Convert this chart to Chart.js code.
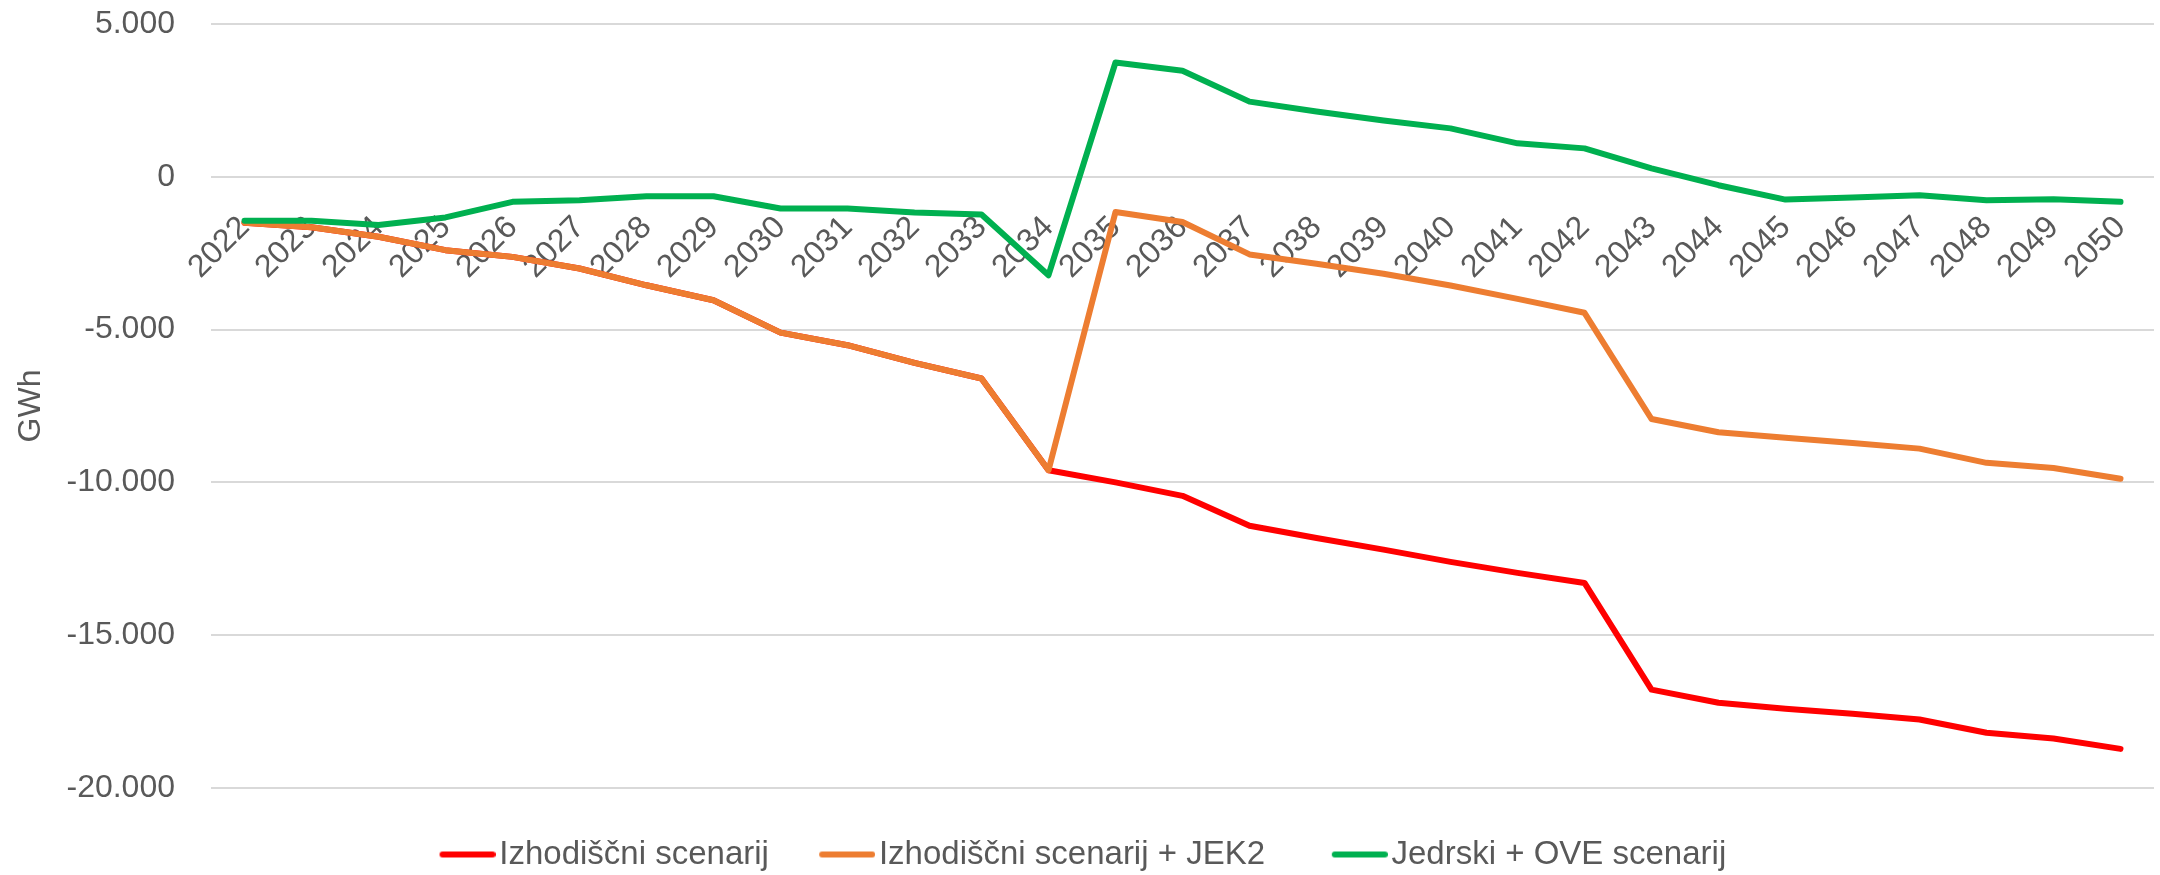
<!DOCTYPE html>
<html lang="sl">
<head>
    <meta charset="UTF-8">
    <title>Bilanca električne energije</title>
    <script src="https://cdn.jsdelivr.net/npm/chart.js@4/dist/chart.umd.min.js"></script>
    <style>
        body {
            margin: 0;
            background: #ffffff;
        }
        .chart-box {
            width: 2160px;
            height: 875px;
        }
    </style>
</head>
<body>

    <div class="chart-box">
        <canvas id="bilancaChart"></canvas>
    </div>

    <script>
        // Leta in vrednosti (GWh), odčitano z grafa
        const years = ['2022', '2023', '2024', '2025', '2026', '2027', '2028', '2029', '2030', '2031',
            '2032', '2033', '2034', '2035', '2036', '2037', '2038', '2039', '2040', '2041',
            '2042', '2043', '2044', '2045', '2046', '2047', '2048', '2049', '2050'];

        const izhodiscni = [-1500, -1650, -1960, -2400, -2620, -3000, -3550, -4040, -5100, -5510,
            -6090, -6600, -9600, -10000, -10440, -11420, -11820, -12200, -12600, -12960,
            -13290, -16780, -17210, -17410, -17570, -17760, -18190, -18380, -18720];

        const izhodiscniJek2 = [-1500, -1650, -1960, -2400, -2620, -3000, -3550, -4040, -5100, -5510,
            -6090, -6600, -9600, -1150, -1480, -2540, -2845, -3170, -3555, -3995,
            -4450, -7925, -8360, -8540, -8710, -8895, -9360, -9530, -9880];

        const jedrskiOve = [-1440, -1440, -1580, -1330, -820, -765, -635, -635, -1035, -1035,
            -1170, -1235, -3220, 3740, 3470, 2460, 2135, 1840, 1585, 1095,
            930, 275, -275, -745, -680, -600, -765, -735, -820];

        const yTicks = [5000, 0, -5000, -10000, -15000, -20000];

        const textColor = '#595959';
        const fontFamily = "'Liberation Sans', Arial, sans-serif";

        // 5000 -> "5.000"
        function formatGWh(v) {
            const s = Math.abs(v).toString().replace(/\B(?=(\d{3})+(?!\d))/g, '.');
            return (v < 0 ? '-' : '') + s;
        }

        // legend marker: short thick line, sits close to the text
        function lineMarker(color) {
            const c = document.createElement('canvas');
            c.width = 69;
            c.height = 10;
            const g = c.getContext('2d');
            g.strokeStyle = color;
            g.lineWidth = 6;
            g.lineCap = 'round';
            g.beginPath();
            g.moveTo(16, 5);
            g.lineTo(66, 5);
            g.stroke();
            return c;
        }

        const ctx = document.getElementById('bilancaChart').getContext('2d');
        new Chart(ctx, {
            type: 'line',
            data: {
                labels: years,
                datasets: [
                    {
                        label: 'Izhodiščni scenarij',
                        data: izhodiscni,
                        borderColor: '#FF0000',
                        backgroundColor: '#FF0000',
                        order: 3
                    },
                    {
                        label: 'Izhodiščni scenarij + JEK2',
                        data: izhodiscniJek2,
                        borderColor: '#ED7D31',
                        backgroundColor: '#ED7D31',
                        order: 2
                    },
                    {
                        label: 'Jedrski + OVE scenarij',
                        data: jedrskiOve,
                        borderColor: '#00B050',
                        backgroundColor: '#00B050',
                        order: 1
                    }
                ]
            },
            options: {
                responsive: true,
                maintainAspectRatio: false,
                animation: false,
                layout: {
                    // left padding nudges the legend to the right; y axis width makes up for it
                    padding: { top: 24, right: 6, bottom: -6, left: 28 }
                },
                elements: {
                    point: { radius: 0, hoverRadius: 0 },
                    line: { tension: 0, borderWidth: 6, borderCapStyle: 'round', borderJoinStyle: 'round' }
                },
                plugins: {
                    tooltip: { enabled: false },
                    legend: {
                        position: 'bottom',
                        labels: {
                            usePointStyle: true,
                            pointStyleWidth: 43.5,
                            padding: 50,
                            color: textColor,
                            font: { family: fontFamily, size: 33 },
                            sort: (a, b) => a.datasetIndex - b.datasetIndex,
                            generateLabels: (chart) => {
                                const items = Chart.defaults.plugins.legend.labels.generateLabels(chart);
                                items.forEach((it, i) => {
                                    it.pointStyle = lineMarker(it.strokeStyle);
                                    // a bit more room between entries
                                    if (i < items.length - 1) it.text += '\u2002';
                                });
                                return items;
                            }
                        }
                    }
                },
                scales: {
                    x: {
                        position: { y: 0 },
                        offset: true,
                        grid: { display: false },
                        border: { display: false },
                        ticks: {
                            autoSkip: false,
                            minRotation: 45,
                            maxRotation: 45,
                            padding: 24,
                            color: textColor,
                            font: { family: fontFamily, size: 32 }
                        },
                        afterFit: (scale) => {
                            scale.height = 0;
                            scale.paddingLeft = 0;
                            scale.paddingRight = 0;
                        }
                    },
                    y: {
                        min: -20000,
                        max: 5000,
                        afterBuildTicks: (scale) => {
                            scale.ticks = yTicks.map(v => ({ value: v }));
                        },
                        afterFit: (scale) => {
                            scale.width = 183;
                            scale.paddingTop = 0;
                            scale.paddingBottom = 0;
                        },
                        grid: {
                            color: '#D9D9D9',
                            lineWidth: 2,
                            drawTicks: false
                        },
                        border: { display: false },
                        ticks: {
                            padding: 36,
                            color: textColor,
                            font: { family: fontFamily, size: 32 },
                            callback: (v) => formatGWh(v)
                        },
                        title: {
                            display: true,
                            text: 'GWh',
                            color: textColor,
                            padding: { top: -16, bottom: 0 },
                            font: { family: fontFamily, size: 32 }
                        }
                    }
                }
            }
        });
    </script>
</body>
</html>
